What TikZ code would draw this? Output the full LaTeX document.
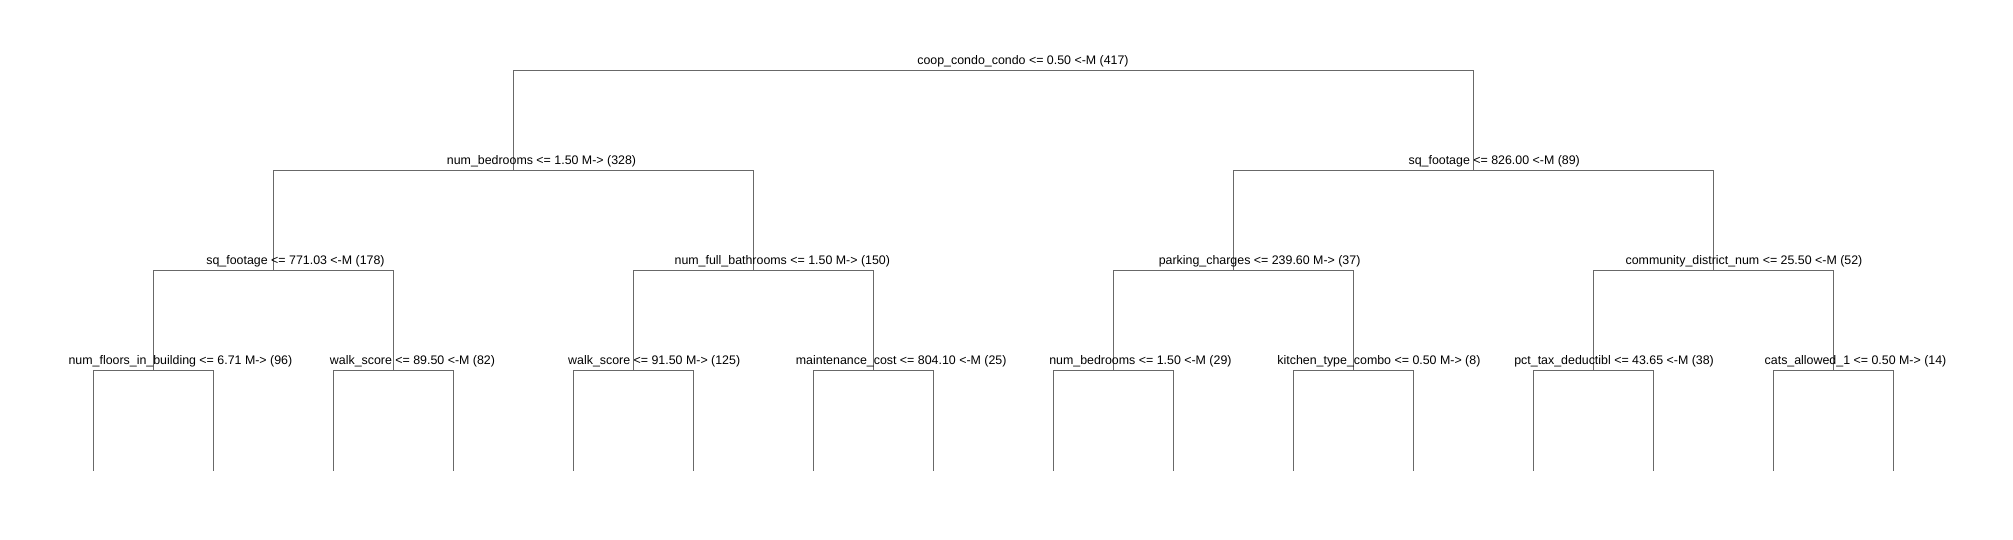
\documentclass[tikz,border=0pt]{standalone}
\usepackage{fontspec}
\setmainfont{Liberation Sans}
\definecolor{treegray}{HTML}{686868}
\begin{document}
\begin{tikzpicture}[x=1pt,y=-1pt,
  edge/.style={draw=treegray,line width=1pt},
  lbl/.style={anchor=base,inner sep=0pt,font=\fontsize{12.4}{14}\selectfont}]
\useasboundingbox[fill=white] (0,0) rectangle (2013,540);
% split points
\coordinate (r) at (993.8,70.3);
\coordinate (a) at (513.8,170.3);
\coordinate (b) at (1473.8,170.3);
\coordinate (aa) at (273.8,270.3);
\coordinate (ab) at (753.8,270.3);
\coordinate (ba) at (1233.8,270.3);
\coordinate (bb) at (1713.8,270.3);
\coordinate (aaa) at (153.8,370.3);
\coordinate (aab) at (393.8,370.3);
\coordinate (aba) at (633.8,370.3);
\coordinate (abb) at (873.8,370.3);
\coordinate (baa) at (1113.8,370.3);
\coordinate (bab) at (1353.8,370.3);
\coordinate (bba) at (1593.8,370.3);
\coordinate (bbb) at (1833.8,370.3);
\foreach \i in {0,...,15} \coordinate (l\i) at ({93.8+120*\i},471);
% connectors
\draw[edge] (r) -| (a); \draw[edge] (r) -| (b);
\draw[edge] (a) -| (aa); \draw[edge] (a) -| (ab);
\draw[edge] (b) -| (ba); \draw[edge] (b) -| (bb);
\draw[edge] (aa) -| (aaa); \draw[edge] (aa) -| (aab);
\draw[edge] (ab) -| (aba); \draw[edge] (ab) -| (abb);
\draw[edge] (ba) -| (baa); \draw[edge] (ba) -| (bab);
\draw[edge] (bb) -| (bba); \draw[edge] (bb) -| (bbb);
\draw[edge] (aaa) -| (l0); \draw[edge] (aaa) -| (l1);
\draw[edge] (aab) -| (l2); \draw[edge] (aab) -| (l3);
\draw[edge] (aba) -| (l4); \draw[edge] (aba) -| (l5);
\draw[edge] (abb) -| (l6); \draw[edge] (abb) -| (l7);
\draw[edge] (baa) -| (l8); \draw[edge] (baa) -| (l9);
\draw[edge] (bab) -| (l10); \draw[edge] (bab) -| (l11);
\draw[edge] (bba) -| (l12); \draw[edge] (bba) -| (l13);
\draw[edge] (bbb) -| (l14); \draw[edge] (bbb) -| (l15);
% labels
\node[lbl] (tr) at (1023,64.5) {coop\_condo\_condo <= 0.50 <-M (417)};
\node[lbl] (ta) at (541.5,164.3) {num\_bedrooms <= 1.50 M-> (328)};
\node[lbl] (tb) at (1494.2,164.3) {sq\_footage <= 826.00 <-M (89)};
\node[lbl] (taa) at (295.5,264.3) {sq\_footage <= 771.03 <-M (178)};
\node[lbl] (tab) at (782.3,264.3) {num\_full\_bathrooms <= 1.50 M-> (150)};
\node[lbl] (tba) at (1259.6,264.3) {parking\_charges <= 239.60 M-> (37)};
\node[lbl] (tbb) at (1744,264.3) {community\_district\_num <= 25.50 <-M (52)};
\node[lbl] (taaa) at (180.4,364) {num\_floors\_in\_building <= 6.71 M-> (96)};
\node[lbl] (taab) at (412.5,364) {walk\_score <= 89.50 <-M (82)};
\node[lbl] (taba) at (654.2,364) {walk\_score <= 91.50 M-> (125)};
\node[lbl] (tabb) at (901.2,364) {maintenance\_cost <= 804.10 <-M (25)};
\node[lbl] (tbaa) at (1140.4,364) {num\_bedrooms <= 1.50 <-M (29)};
\node[lbl] (tbab) at (1378.9,364) {kitchen\_type\_combo <= 0.50 M-> (8)};
\node[lbl] (tbba) at (1614.1,364) {pct\_tax\_deductibl <= 43.65 <-M (38)};
\node[lbl] (tbbb) at (1855.5,364) {cats\_allowed\_1 <= 0.50 M-> (14)};
\end{tikzpicture}
\end{document}
